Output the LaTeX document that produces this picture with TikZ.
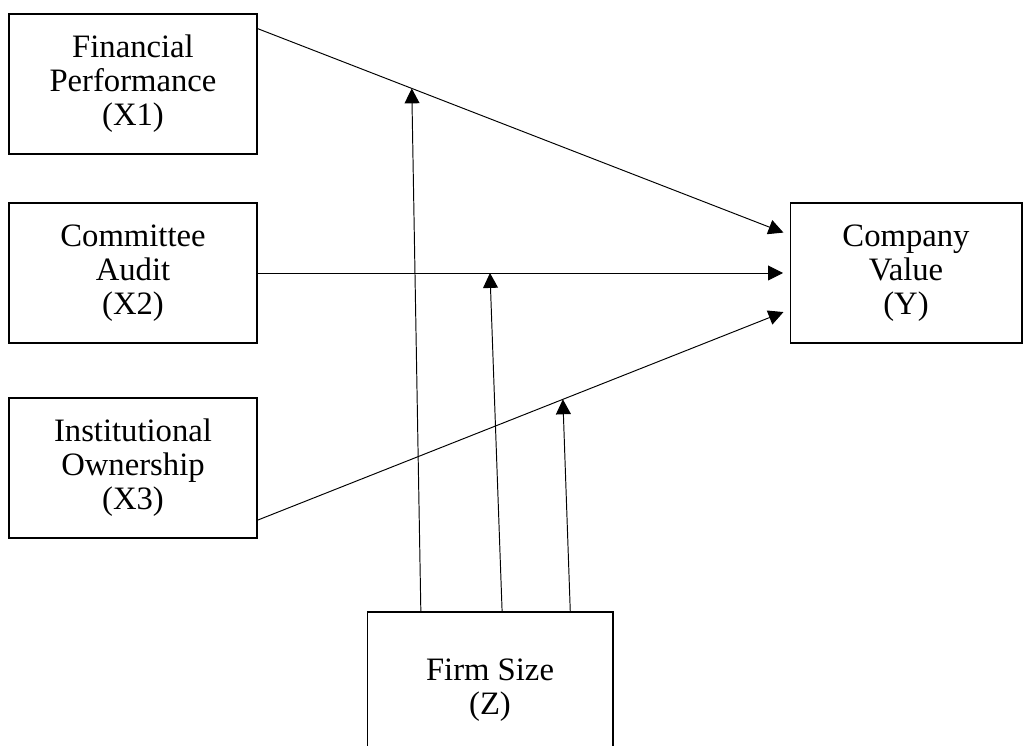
\documentclass[tikz,border=0pt]{standalone}
\usepackage{fontspec}
\setmainfont{Liberation Serif}
\usepackage{tikz}
\usetikzlibrary{positioning}
\usetikzlibrary{calc}
\usetikzlibrary{arrows.meta}

\begin{document}
\begin{tikzpicture}[x=0.02cm, y=-0.02cm,
        varbox/.style={draw, line width=0.6pt, align=center, minimum width=4.96cm, minimum height=2.8cm,
            font=\fontsize{18.6}{19.4}\selectfont},
        arr/.style={line width=0.55pt, -{Triangle[length=8.5pt,width=8.5pt]}}]
        \useasboundingbox (0,0) rectangle (1024,746);
        \clip (0,0) rectangle (1024,746);

        \node[varbox] (x1) at (133,84) {Financial\\Performance\\(X1)};
        \node[varbox] (x2) at (133,273) {Committee\\Audit\\(X2)};
        \node[varbox] (x3) at (133,468) {Institutional\\Ownership\\(X3)};
        \node[varbox, minimum width=4.64cm] (y) at (906,273) {Company\\Value\\(Y)};
        \node[varbox, minimum width=4.92cm, minimum height=3.12cm] (z) at (490,690) {Firm Size\\(Z)};

        \draw[arr, shorten >=0.13cm] ($(x1.north east)!0.107!(x1.south east)$) -- coordinate[pos=0.29] (m1) ($(y.north west)!0.23!(y.south west)$);
        \draw[arr, shorten >=0.13cm] (x2.east) -- coordinate[pos=0.437] (m2) (y.west);
        \draw[arr, shorten >=0.13cm] ($(x3.north east)!0.87!(x3.south east)$) -- coordinate[pos=0.574] (m3) ($(y.north west)!0.76!(y.south west)$);

        \draw[arr] ($(z.north west)!0.22!(z.north east)$) -- (m1);
        \draw[arr] ($(z.north west)!0.549!(z.north east)$) -- (m2);
        \draw[arr] ($(z.north west)!0.825!(z.north east)$) -- (m3);
    \end{tikzpicture}
\end{document}
